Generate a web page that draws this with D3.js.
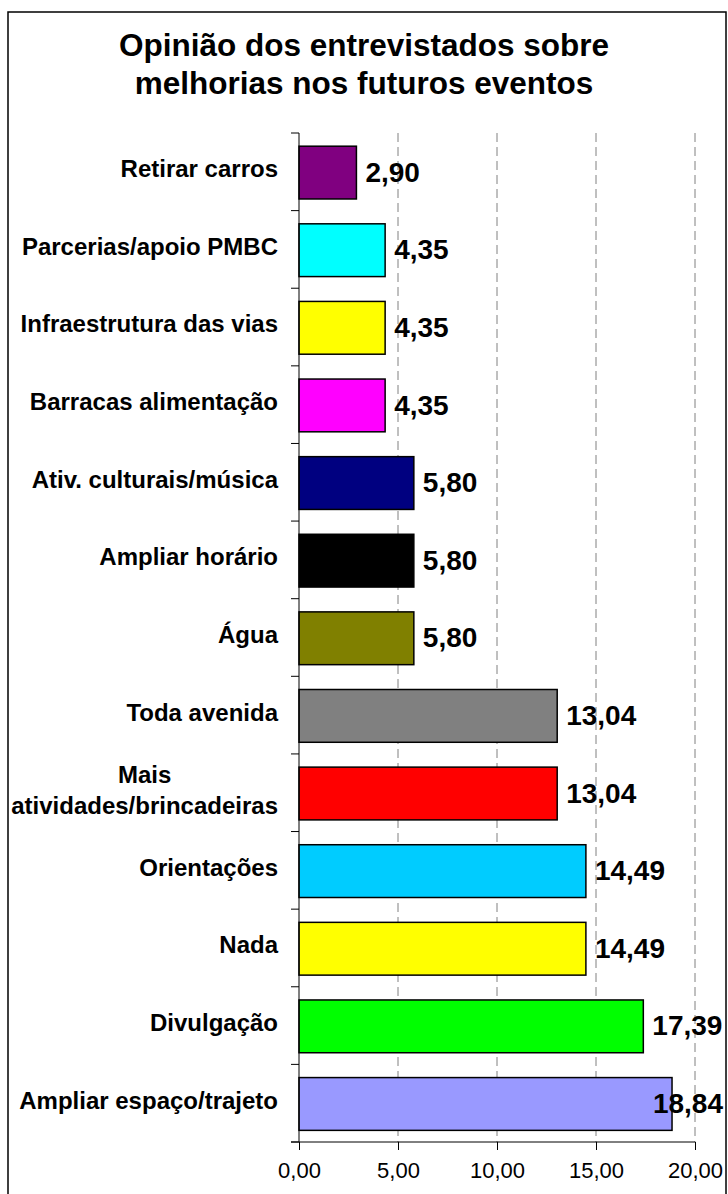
<!DOCTYPE html>
<html>
<head>
<meta charset="utf-8">
<script src="https://cdn.jsdelivr.net/npm/d3@7"></script>
<style>
    body { margin: 0; background: #fff; }
    svg { display: block; font-family: "Liberation Sans", Arial, sans-serif; }
</style>
</head>
<body>
<svg id="chart"></svg>
<script>
// chart data, top to bottom as in the picture
var categories = [
    "Retirar carros",
    "Parcerias/apoio PMBC",
    "Infraestrutura das vias",
    "Barracas alimentação",
    "Ativ. culturais/música",
    "Ampliar horário",
    "Água",
    "Toda avenida",
    "Mais\natividades/brincadeiras",
    "Orientações",
    "Nada",
    "Divulgação",
    "Ampliar espaço/trajeto"
];
var values = [2.90, 4.35, 4.35, 4.35, 5.80, 5.80, 5.80, 13.04, 13.04, 14.49, 14.49, 17.39, 18.84];
var barColors = [
    "#800080", "#00ffff", "#ffff00", "#ff00ff", "#000080", "#000000", "#808000",
    "#808080", "#ff0000", "#00ccff", "#ffff00", "#00ff00", "#9999ff"
];
var xTicks = [0, 5, 10, 15, 20];
var titleLines = ["Opinião dos entrevistados sobre", "melhorias nos futuros eventos"];

var w = 728,
    h = 1194;

var plot = { left: 299, right: 695, top: 133, bottom: 1142 };

var fmt = function (v) { return v.toFixed(2).replace(".", ","); };

var svg = d3.select("#chart")
    .attr("width", w)
    .attr("height", h);

// outer frame
svg.append("rect")
    .attr("x", 8).attr("y", 12)
    .attr("width", 718).attr("height", h)
    .attr("fill", "#fff")
    .attr("stroke", "#000")
    .attr("stroke-width", 1.5);

// title
svg.append("g").selectAll("text")
    .data(titleLines)
    .enter().append("text")
    .attr("x", 364)
    .attr("y", function (d, i) { return 56 + i * 38; })
    .attr("text-anchor", "middle")
    .attr("font-size", 31.5)
    .attr("font-weight", "bold")
    .text(function (d) { return d; });

var x = d3.scaleLinear().domain([0, 20]).range([plot.left, plot.right]);
var y = d3.scaleBand().domain(categories).range([plot.top, plot.bottom]).padding(0);

// dashed grid lines
svg.append("g").selectAll("line")
    .data(xTicks.filter(function (t) { return t > 0; }))
    .enter().append("line")
    .attr("x1", function (d) { return x(d); })
    .attr("x2", function (d) { return x(d); })
    .attr("y1", plot.top)
    .attr("y2", plot.bottom)
    .attr("stroke", "#808080")
    .attr("stroke-width", 1)
    .attr("stroke-dasharray", "9,5");

// bars
var barOffset = y.bandwidth() * 0.17,
    barHeight = y.bandwidth() * 0.68;

svg.append("g").selectAll("rect")
    .data(categories)
    .enter().append("rect")
    .attr("x", x(0))
    .attr("y", function (d) { return y(d) + barOffset; })
    .attr("width", function (d, i) { return x(values[i]) - x(0); })
    .attr("height", barHeight)
    .attr("fill", function (d, i) { return barColors[i]; })
    .attr("stroke", "#000")
    .attr("stroke-width", 1.5);

// value labels, kept inside the frame like excel does
svg.append("g").selectAll("text")
    .data(categories)
    .enter().append("text")
    .attr("y", function (d) { return y(d) + barOffset + barHeight / 2 - 1; })
    .attr("dy", "0.36em")
    .attr("font-size", 28)
    .attr("font-weight", "bold")
    .text(function (d, i) { return fmt(values[i]); })
    .attr("x", function (d, i) {
        var len = this.getComputedTextLength();
        return Math.min(x(values[i]) + 9, 723 - len);
    });

// y axis: line + ticks between categories
var yAxis = svg.append("g");
yAxis.append("line")
    .attr("x1", plot.left).attr("x2", plot.left)
    .attr("y1", plot.top).attr("y2", plot.bottom)
    .attr("stroke", "#000");
yAxis.selectAll(".ytick")
    .data(categories.map(function (d) { return y(d); }).concat([plot.bottom]))
    .enter().append("line")
    .attr("class", "ytick")
    .attr("x1", plot.left - 8).attr("x2", plot.left)
    .attr("y1", function (d) { return d; })
    .attr("y2", function (d) { return d; })
    .attr("stroke", "#000");

// category labels (right aligned block, lines centred inside it)
var labelRight = 278;
var labels = svg.append("g").selectAll("g")
    .data(categories)
    .enter().append("g");

labels.each(function (d) {
    var g = d3.select(this);
    var lines = d.split("\n");
    var cy = y(d) + barOffset + barHeight / 2;
    var lineH = 31;
    var texts = lines.map(function (line, i) {
        return g.append("text")
            .attr("y", cy - 4 + (i - (lines.length - 1) / 2) * lineH)
            .attr("dy", "0.36em")
            .attr("font-size", 24)
            .attr("font-weight", "bold")
            .attr("text-anchor", "middle")
            .text(line);
    });
    var maxLen = d3.max(texts, function (t) { return t.node().getComputedTextLength(); });
    texts.forEach(function (t) { t.attr("x", labelRight - maxLen / 2); });
});

// x axis
var xAxis = d3.axisBottom(x)
    .tickValues(xTicks)
    .tickSize(8)
    .tickPadding(12)
    .tickFormat(fmt);

var xg = svg.append("g")
    .attr("transform", "translate(0," + plot.bottom + ")")
    .call(xAxis);
xg.select(".domain")
    .attr("d", "M" + (plot.left - 8) + ",0H" + plot.right)
    .attr("stroke", "#000");
xg.selectAll(".tick line").attr("stroke", "#000");
xg.selectAll("text")
    .attr("font-family", "Liberation Sans, Arial, sans-serif")
    .attr("font-size", 22)
    .attr("fill", "#000");
</script>
</body>
</html>
